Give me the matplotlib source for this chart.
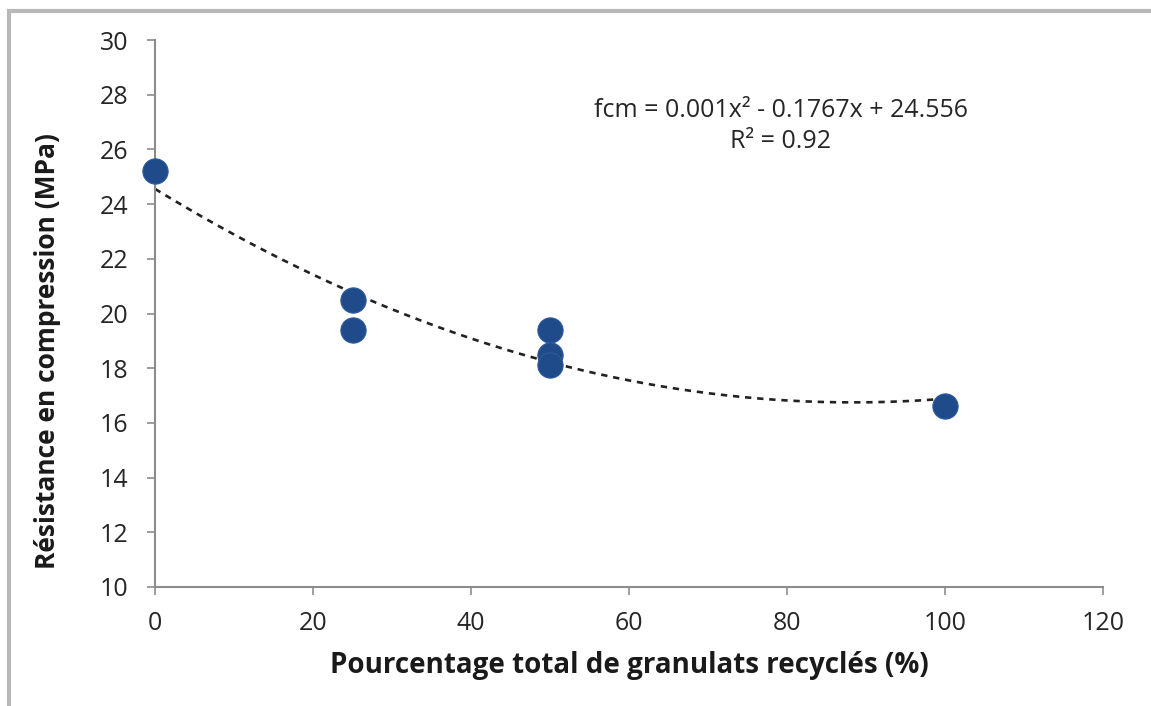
import numpy as np
import matplotlib
matplotlib.use("Agg")
import matplotlib.pyplot as plt
from matplotlib.patches import Rectangle

# Data
pct_recycled = [0, 25, 25, 50, 50, 50, 100]
fcm_mpa = [25.2, 20.5, 19.4, 19.4, 18.5, 18.1, 16.6]
trend_coeffs = [0.001, -0.1767, 24.556]  # from displayed equation
eq_text = "fcm = 0.001x² - 0.1767x + 24.556"
r2_text = "R² = 0.92"
x_ticks = [0, 20, 40, 60, 80, 100, 120]
y_ticks = [10, 12, 14, 16, 18, 20, 22, 24, 26, 28, 30]

plt.rcParams['font.family'] = ['Open Sans', 'DejaVu Sans']

W, H = 1151, 706
fig = plt.figure(figsize=(W / 100, H / 100), dpi=100)
fig.patch.set_facecolor('white')
# outer grey frame (left and top edges visible)
fig.add_artist(Rectangle((8.5 / W, -0.05), 1.2, (H - 11) / H + 0.05, transform=fig.transFigure,
                         fill=False, edgecolor='#b8b8b8', linewidth=3.0))

ax = fig.add_axes([155 / W, (H - 587) / H, (1103 - 155) / W, (587 - 40) / H])
ax.set_xlim(0, 120)
ax.set_ylim(10, 30)

xs = np.linspace(0, 100, 200)
ax.plot(xs, np.polyval(trend_coeffs, xs), color='#222222', linestyle=(0, (2.4, 2.2)),
        linewidth=1.9, zorder=2)
ax.scatter(pct_recycled, fcm_mpa, s=330, color='#1f4b8a', edgecolor='#2d5a9a',
           linewidth=0.8, zorder=3, clip_on=False)

ax.set_xticks(x_ticks)
ax.set_yticks(y_ticks)
for s in ['top', 'right']:
    ax.spines[s].set_visible(False)
for s in ['left', 'bottom']:
    ax.spines[s].set_color('#8c8c8c')
    ax.spines[s].set_linewidth(1.5)
ax.tick_params(axis='both', direction='out', length=6, width=1.2, color='#8c8c8c',
               labelsize=18, labelcolor='#262626')
ax.tick_params(axis='y', pad=13)
ax.tick_params(axis='x', pad=11)

ax.set_xlabel("Pourcentage total de granulats recyclés (%)", fontsize=20,
              fontweight='bold', color='#1a1a1a')
ax.set_ylabel("Résistance en compression (MPa)", fontsize=19,
              fontweight='bold', color='#1a1a1a')
ax.xaxis.set_label_coords(0.5, (587 - 665) / 547, transform=ax.transAxes)
ax.yaxis.set_label_coords((48 - 155) / 948, (587 - 351) / 547, transform=ax.transAxes)
ax.xaxis.label.set_va('center')
ax.yaxis.label.set_va('center')

fig.text(781 / W, 1 - 126 / H, eq_text + "\n" + r2_text,
         ha='center', va='center', fontsize=18, color='#262626', linespacing=1.3)

fig.savefig("out.png", dpi=100, facecolor='white')
